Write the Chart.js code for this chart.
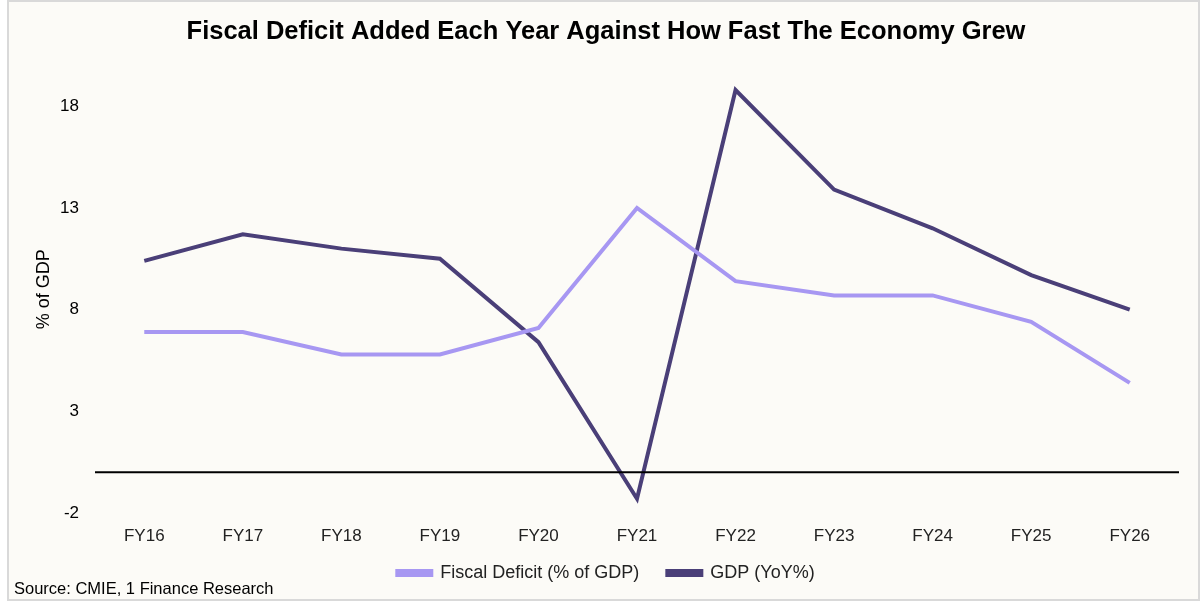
<!DOCTYPE html>
<html>
<head>
<meta charset="utf-8">
<script src="https://cdn.jsdelivr.net/npm/chart.js@4.4.1/dist/chart.umd.min.js"></script>
<style>
    html, body { margin: 0; padding: 0; background: #ffffff; }
    #wrap {
        position: absolute; left: 7px; top: 0; width: 1189px; height: 597px;
        border: 2px solid #d9d9d9; background: #fcfbf7;
    }
    #box { position: absolute; left: -9px; top: -2px; width: 1200px; height: 601px; }
</style>
</head>
<body>
<div id="wrap"><div id="box"><canvas id="fiscal-chart"></canvas></div></div>
<script>
const years = ["FY16", "FY17", "FY18", "FY19", "FY20", "FY21", "FY22", "FY23", "FY24", "FY25", "FY26"];
const fiscalDeficit = [6.9, 6.9, 5.8, 5.8, 7.1, 13.0, 9.4, 8.7, 8.7, 7.4, 4.4];
const gdpGrowth = [10.4, 11.7, 11.0, 10.5, 6.4, -1.3, 18.8, 13.9, 12.0, 9.7, 8.0];
const yTicks = [-2, 3, 8, 13, 18];

const FONT = "'Liberation Sans', Arial, sans-serif";

// black line at zero plus the source note
const extras = {
    id: "extras",
    afterDatasetsDraw(chart) {
        const ctx = chart.ctx;
        const area = chart.chartArea;
        const y0 = chart.scales.y.getPixelForValue(0);
        ctx.save();
        ctx.strokeStyle = "#000000";
        ctx.lineWidth = 2;
        ctx.beginPath();
        ctx.moveTo(area.left, y0);
        ctx.lineTo(area.right, y0);
        ctx.stroke();
        ctx.restore();
    },
    afterDraw(chart) {
        const ctx = chart.ctx;
        ctx.save();
        ctx.fillStyle = "#000000";
        ctx.font = "16.5px " + FONT;
        ctx.textBaseline = "middle";
        ctx.fillText("Source: CMIE, 1 Finance Research", 14, 589);
        ctx.restore();
    }
};

let initChart = () => {
    const ctx = "fiscal-chart";

    const chartData = {
        labels: years,
        datasets: [
            {
                label: "Fiscal Deficit (% of GDP)",
                data: fiscalDeficit,
                borderColor: "#a797f2",
                backgroundColor: "#a797f2",
                borderWidth: 4,
                pointRadius: 0,
                tension: 0
            },
            {
                label: "GDP (YoY%)",
                data: gdpGrowth,
                borderColor: "#4a3f78",
                backgroundColor: "#4a3f78",
                borderWidth: 4,
                pointRadius: 0,
                tension: 0
            }
        ]
    };

    const chartOptions = {
        responsive: true,
        maintainAspectRatio: false,
        animation: false,
        layout: {
            padding: { left: 33, right: 21, top: 5, bottom: 9 }
        },
        plugins: {
            title: {
                display: true,
                text: "Fiscal Deficit Added Each Year Against How Fast The Economy Grew",
                color: "#000000",
                font: { family: FONT, size: 25.5, weight: "bold" },
                padding: { top: 12, bottom: 18 }
            },
            legend: {
                position: "bottom",
                labels: {
                    color: "#222222",
                    font: { family: FONT, size: 18 },
                    boxWidth: 34,
                    boxHeight: 4,
                    padding: 18,
                    generateLabels: chart => {
                        const items = Chart.defaults.plugins.legend.labels.generateLabels(chart);
                        items[0].text += "  ";
                        return items;
                    }
                }
            },
            tooltip: { enabled: false }
        },
        scales: {
            x: {
                offset: true,
                grid: { display: false, drawTicks: false },
                border: { display: false },
                afterFit: scale => {
                    scale.height = 33;
                },
                ticks: {
                    color: "#222222",
                    font: { family: FONT, size: 17 },
                    padding: 13
                }
            },
            y: {
                min: -2,
                max: 20,
                grid: { display: false, drawTicks: false },
                border: { display: false },
                afterBuildTicks: scale => {
                    scale.ticks = yTicks.map(v => ({ value: v }));
                },
                afterFit: scale => {
                    scale.width = 62;
                },
                ticks: {
                    color: "#000000",
                    font: { family: FONT, size: 17 },
                    padding: 16
                },
                title: {
                    display: true,
                    text: "% of GDP",
                    color: "#000000",
                    font: { family: FONT, size: 18 },
                    padding: 0
                }
            }
        }
    };

    new Chart(ctx, {
        type: "line",
        data: chartData,
        options: chartOptions,
        plugins: [extras]
    });
};

initChart();
</script>
</body>
</html>
